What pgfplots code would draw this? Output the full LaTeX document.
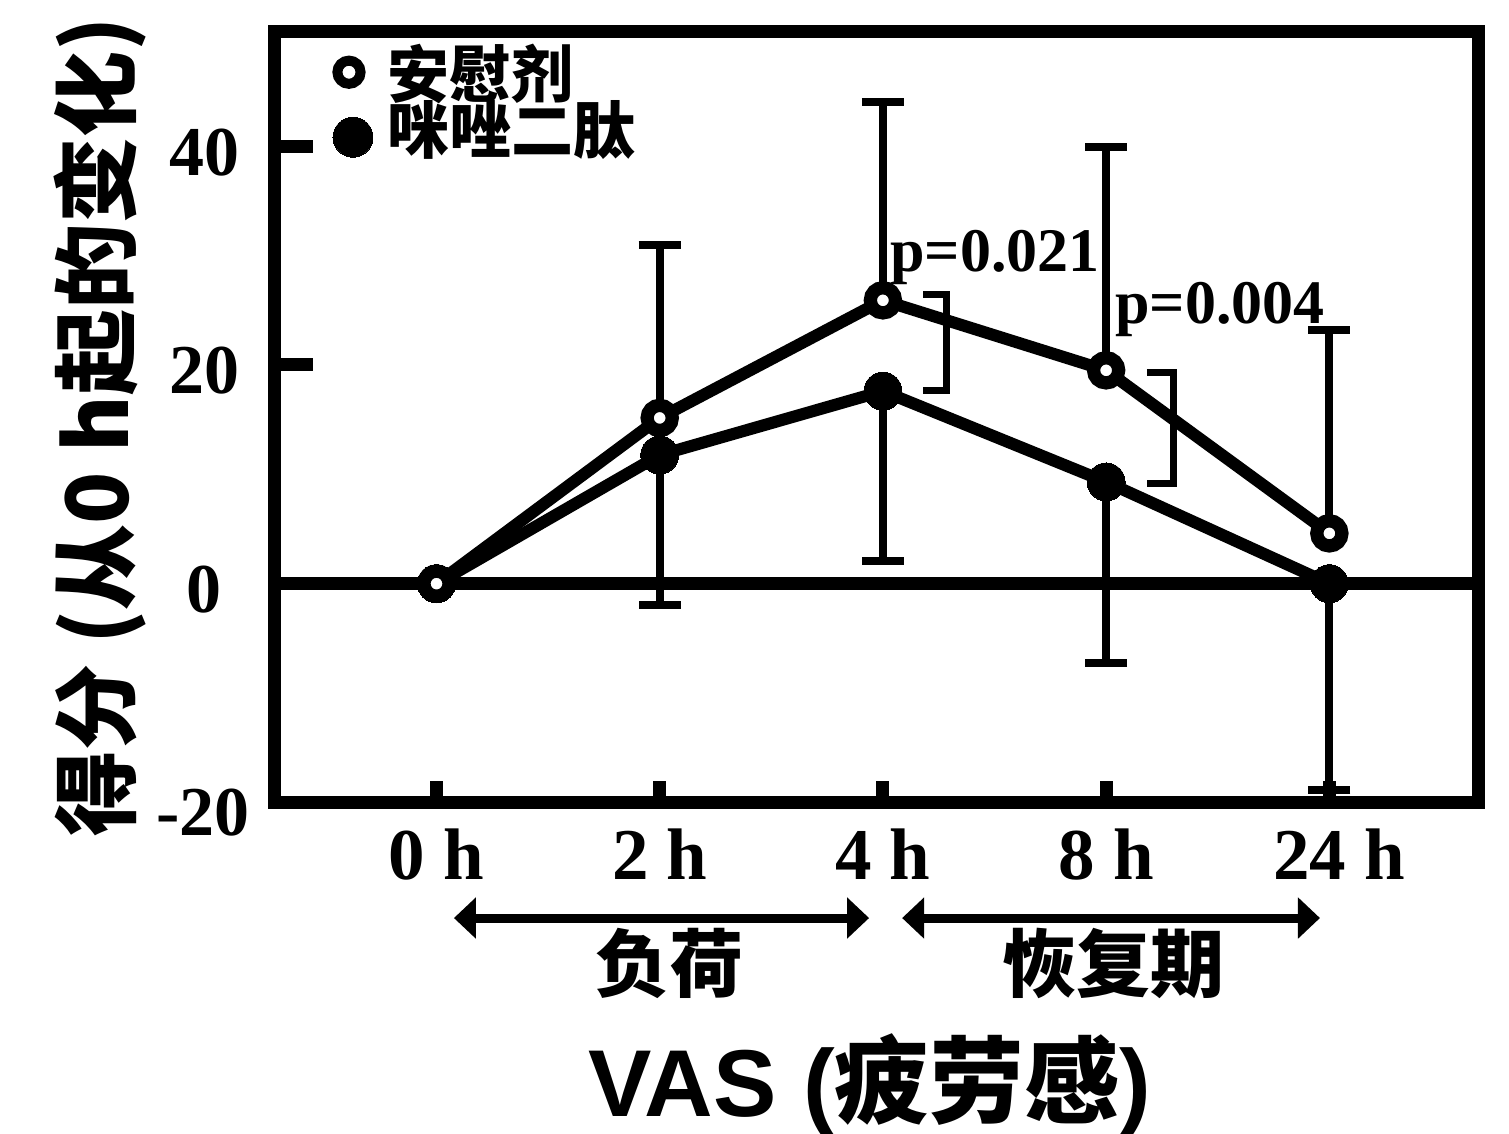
\documentclass[border=0pt]{standalone}
\usepackage{fontspec}
\setmainfont{Liberation Serif}
\newfontfamily\cjk{Noto Sans CJK SC}
\newfontfamily\arial{Liberation Sans}
\usepackage{pgfplots}
\usepackage{pgfplotstable}
\pgfplotsset{compat=1.18}
\usetikzlibrary{arrows.meta}

% x: 0=0 h, 1=2 h, 2=4 h, 3=8 h, 4=24 h
\pgfplotstableread{
x y err
0 0    0
1 15.15 15.8
2 25.9 18.1
3 19.5 20.4
4 4.6  18.6
}\placebo
\pgfplotstableread{
x y err
0 0    0
1 11.76 13.7
2 17.6 15.5
3 9.3  16.55
4 0    18.9
}\imidazole

\begin{document}
\begin{tikzpicture}
\path[use as bounding box] (0,0) rectangle (754.5pt,567pt);
\begin{axis}[
  at={(137pt,165.75pt)}, anchor=south west,
  scale only axis, width=602pt, height=385.5pt,
  xmin=-0.728, xmax=4.666, ymin=-20, ymax=50.47,
  clip=false,
  axis line style={line width=6.5pt, line join=miter},
  tick align=inside,
  xtick pos=bottom, ytick pos=left,
  xtick={0,1,2,3,4}, xticklabels={0 h,2 h,4 h,8 h,\hspace{10pt}24 h},
  ytick={-20,0,20,40}, yticklabels={\raisebox{-2pt}{-20}\kern-5pt\relax,0\kern9pt\relax,20,40},
  tick style={line width=6.5pt, black},
  xtick style={/pgfplots/major tick length=10.5pt},
  ytick style={/pgfplots/major tick length=19.5pt},
  /pgf/number format/assume math mode=true,
  ticklabel style={font=\bfseries\fontsize{35}{35}\selectfont, inner sep=0pt},
  xticklabel style={anchor=base, yshift=-38.75pt, font=\bfseries\fontsize{36.5}{36.5}\selectfont},
  yticklabel style={anchor=base east, xshift=-17pt, yshift=-14.5pt},
  ylabel={得分 (从0 h起的变化)},
  ylabel style={font=\cjk\bfseries\fontsize{43}{43}\selectfont, at={(axis description cs:-0.1445,0.487)}, anchor=center},
  xlabel={{\arial VAS (}{\cjk 疲劳感}{\arial )}},
  xlabel style={font=\bfseries\fontsize{47.5}{47.5}\selectfont, at={(axis description cs:0.495,-0.366)}, anchor=center},
  legend cell align=left,
  legend style={at={(axis description cs:0.049,0.977)}, anchor=north west,
    draw=none, fill=none, inner sep=0pt, outer sep=0pt,
    column sep=7.5pt, row sep=0pt,
    nodes={inner sep=0pt, text height=24pt, text depth=4pt},
    font=\cjk\bfseries\fontsize{31}{31}\selectfont},
]
% zero line
\addplot[forget plot, black, line width=6.5pt] coordinates {(-0.728,0) (4.666,0)};
% error bars
\addplot[forget plot, only marks, mark=none, restrict x to domain=1:4,
  error bars/.cd, y dir=plus, y explicit,
  error bar style={line width=4pt, black},
  error mark options={rotate=90, mark size=10.5pt, line width=4pt, black}]
  table[x=x, y=y, y error=err] {\placebo};
\addplot[forget plot, only marks, mark=none, restrict x to domain=1:4,
  error bars/.cd, y dir=minus, y explicit,
  error bar style={line width=4pt, black},
  error mark options={rotate=90, mark size=10.5pt, line width=4pt, black}]
  table[x=x, y=y, y error=err] {\imidazole};
% series
\addplot[forget plot, black, line width=6pt, mark=*, mark size=9.5pt,
  mark options={fill=black, line width=0pt}]
  table[x=x, y=y] {\imidazole};
\addplot[forget plot, black, line width=6pt, mark=*, mark size=6.3pt,
  mark options={fill=white, draw=black, line width=6.6pt}]
  table[x=x, y=y] {\placebo};
% legend
\addlegendimage{legend image code/.code={\draw[mark=*, mark size=5.8pt, mark options={fill=white, draw=black, line width=5pt}, xshift=-2pt, yshift=2.5pt] plot coordinates {(0pt,0pt)};}}
\addlegendentry{安慰剂}
\addlegendimage{legend image code/.code={\draw[mark=*, mark size=10pt, mark options={fill=black, draw=black, line width=0pt}, yshift=-2pt] plot coordinates {(0pt,0pt)};}}
\addlegendentry{咪唑二肽}
% significance brackets
\draw[line width=3.5pt, line join=miter] (axis cs:2.18,26.4) -| (axis cs:2.287,17.7) -- (axis cs:2.18,17.7);
\draw[line width=3.5pt, line join=miter] (axis cs:3.183,19.26) -| (axis cs:3.30,9.2) -- (axis cs:3.183,9.2);
\node[anchor=base, inner sep=0pt, font=\bfseries\fontsize{31}{31}\selectfont] at (axis cs:2.502,28.5) {p=0.021};
\node[anchor=base, inner sep=0pt, font=\bfseries\fontsize{31}{31}\selectfont] at (axis cs:3.51,23.8) {p=0.004};
% phases
\draw[line width=4.5pt, {Triangle[length=11pt,width=20pt]}-{Triangle[length=11pt,width=20pt]}] (axis cs:0.078,-30.56) -- (axis cs:1.938,-30.56);
\draw[line width=4.5pt, {Triangle[length=11pt,width=20pt]}-{Triangle[length=11pt,width=20pt]}] (axis cs:2.086,-30.56) -- (axis cs:3.958,-30.56);
\node[font=\cjk\bfseries\fontsize{37}{37}\selectfont, inner sep=0pt] at (axis cs:1.042,-34.7) {负荷};
\node[font=\cjk\bfseries\fontsize{37}{37}\selectfont, inner sep=0pt] at (axis cs:3.031,-34.7) {恢复期};
\end{axis}
\end{tikzpicture}
\end{document}
